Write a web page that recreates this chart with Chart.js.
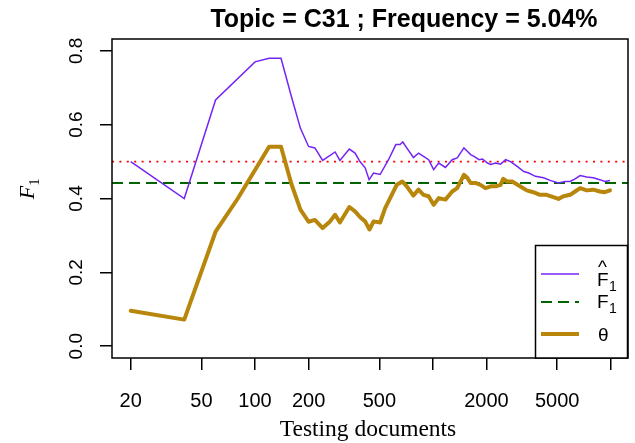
<!DOCTYPE html>
<html><head><meta charset="utf-8">
<script src="https://cdn.jsdelivr.net/npm/chart.js@4"></script>
<style>html,body{margin:0;padding:0;background:#fff}#wrap{width:635px;height:443px}</style>
</head><body><div id="wrap"><canvas id="c" width="635" height="443"></canvas></div>
<script>
const titleText = 'Topic = C31 ; Frequency = 5.04%';
const xAxisTitle = 'Testing documents';
const xTickValues = [20, 50, 100, 200, 500, 1000, 2000, 5000, 10000];
const xTickLabels = ['20', '50', '100', '200', '500', '', '2000', '5000', ''];
const yTickValues = [0, 0.2, 0.4, 0.6, 0.8];
const yTickLabels = ['0.0', '0.2', '0.4', '0.6', '0.8'];

const fhatDocs = [20, 40, 60, 100, 120, 140, 160, 180, 200, 217, 240, 282, 300, 339, 365, 389, 416, 438, 464, 505, 563, 619, 654, 677, 713, 777, 830, 886, 946, 1010, 1078, 1176, 1284, 1370, 1494, 1562, 1630, 1703, 1818, 1900, 2025, 2114, 2255, 2402, 2563, 2734, 2977, 3245, 3460, 3770, 4190, 4560, 5080, 5540, 5910, 6300, 6725, 7330, 7970, 8680, 9260, 9900];
const fhatValues = [0.50, 0.40, 0.667, 0.77, 0.78, 0.78, 0.677, 0.59, 0.541, 0.537, 0.503, 0.526, 0.503, 0.534, 0.523, 0.50, 0.483, 0.451, 0.469, 0.465, 0.505, 0.546, 0.546, 0.553, 0.537, 0.511, 0.523, 0.514, 0.505, 0.478, 0.496, 0.484, 0.505, 0.51, 0.537, 0.528, 0.519, 0.514, 0.505, 0.507, 0.496, 0.492, 0.496, 0.493, 0.505, 0.50, 0.487, 0.473, 0.469, 0.46, 0.456, 0.449, 0.442, 0.446, 0.446, 0.453, 0.462, 0.458, 0.456, 0.451, 0.446, 0.449];

const thetaDocs = [20, 40, 60, 80, 120, 140, 160, 180, 200, 217, 240, 264, 282, 300, 339, 365, 389, 416, 440, 464, 505, 539, 575, 626, 674, 713, 777, 830, 886, 946, 1010, 1078, 1176, 1284, 1370, 1494, 1562, 1630, 1735, 1850, 1975, 2114, 2255, 2402, 2486, 2616, 2790, 3040, 3370, 3670, 4000, 4360, 4750, 5080, 5420, 5910, 6300, 6725, 7330, 7970, 8680, 9260, 9900];
const thetaValues = [0.096, 0.072, 0.31, 0.40, 0.54, 0.54, 0.44, 0.37, 0.337, 0.342, 0.32, 0.338, 0.356, 0.335, 0.377, 0.365, 0.35, 0.338, 0.316, 0.338, 0.335, 0.374, 0.401, 0.437, 0.446, 0.433, 0.408, 0.424, 0.41, 0.406, 0.383, 0.401, 0.397, 0.419, 0.428, 0.464, 0.456, 0.442, 0.442, 0.437, 0.428, 0.433, 0.433, 0.437, 0.453, 0.446, 0.446, 0.435, 0.422, 0.417, 0.41, 0.41, 0.404, 0.399, 0.406, 0.41, 0.419, 0.428, 0.422, 0.424, 0.419, 0.417, 0.422];

const f1Level = 0.442;
const refLevel = 0.5;
const xRange = [15.7, 12500];
const yRange = [-0.032, 0.832];

const colFhat = '#7424f5';
const colF1 = '#006400';
const colTheta = '#b8860b';
const colRef = '#ff0000';

const pts = (xs, ys) => xs.map((v, i) => ({x: v, y: ys[i]}));
const hline = (lvl) => [{x: xRange[0], y: lvl}, {x: xRange[1], y: lvl}];

const decor = {
  id: 'decor',
  afterDraw(chart) {
    const {ctx, chartArea: a, scales: {x, y}} = chart;
    ctx.save();
    ctx.strokeStyle = '#000';
    ctx.lineWidth = 1.5;
    ctx.strokeRect(a.left, a.top, a.right - a.left, a.bottom - a.top);
    ctx.fillStyle = '#000';
    // title
    ctx.font = 'bold 25px "Liberation Sans"';
    ctx.textAlign = 'center';
    ctx.textBaseline = 'alphabetic';
    ctx.fillText(titleText, 404, 27);
    // y tick labels (rotated)
    ctx.font = '19px "Liberation Sans"';
    yTickValues.forEach((v, i) => {
      const py = y.getPixelForValue(v);
      ctx.save();
      ctx.translate(82, py);
      ctx.rotate(-Math.PI / 2);
      ctx.textAlign = 'center';
      ctx.fillText(yTickLabels[i], 0, 0);
      ctx.restore();
    });
    // y axis title F_1 (italic serif, rotated)
    ctx.save();
    ctx.translate(34, 188);
    ctx.rotate(-Math.PI / 2);
    ctx.textAlign = 'left';
    ctx.font = 'italic 22px "Liberation Serif"';
    const fw = ctx.measureText('F').width;
    const tot = fw + 9;
    ctx.fillText('F', -tot / 2, 0);
    ctx.font = '15px "Liberation Serif"';
    ctx.fillText('1', -tot / 2 + fw, 5);
    ctx.restore();
    // x axis title
    ctx.font = '23.5px "Liberation Serif"';
    ctx.textAlign = 'center';
    ctx.fillText(xAxisTitle, 368, 436);
    // legend
    const lx = 535.5, ly = 245.5, lw = 92, lh = a.bottom - 245.5;
    ctx.fillStyle = '#fff';
    ctx.fillRect(lx, ly, lw, lh);
    ctx.strokeStyle = '#000';
    ctx.lineWidth = 1.5;
    ctx.strokeRect(lx, ly, lw, lh);
    const rows = [274, 302, 334];
    const seg = (yy, col, w, dash) => {
      ctx.beginPath();
      ctx.setLineDash(dash);
      ctx.strokeStyle = col; ctx.lineWidth = w;
      ctx.moveTo(541, yy); ctx.lineTo(579, yy); ctx.stroke();
      ctx.setLineDash([]);
    };
    seg(rows[0], colFhat, 1.5, []);
    seg(rows[1], colF1, 2, [11, 6]);
    seg(rows[2], colTheta, 4, []);
    ctx.fillStyle = '#000';
    ctx.textAlign = 'left';
    ctx.font = '19px "Liberation Sans"';
    ctx.fillText('F', 597, rows[0] + 12);
    ctx.fillText('^', 598, rows[0] - 1);
    ctx.font = '14px "Liberation Sans"';
    ctx.fillText('1', 609, rows[0] + 17);
    ctx.font = '19px "Liberation Sans"';
    ctx.fillText('F', 597, rows[1] + 6);
    ctx.font = '14px "Liberation Sans"';
    ctx.fillText('1', 609, rows[1] + 11);
    ctx.font = '19px "Liberation Sans"';
    ctx.fillText('\u03b8', 598, rows[2] + 7);
    ctx.restore();
  }
};

new Chart(document.getElementById('c'), {
  type: 'line',
  data: {
    datasets: [
      {label: 'theta', data: pts(thetaDocs, thetaValues), borderColor: colTheta, borderWidth: 4, pointRadius: 0, order: 0, borderJoinStyle: 'round', borderCapStyle: 'round'},
      {label: 'Fhat', data: pts(fhatDocs, fhatValues), borderColor: colFhat, borderWidth: 1.5, pointRadius: 0, order: 1},
      {label: 'F1', data: hline(f1Level), borderColor: colF1, borderWidth: 2, borderDash: [11, 6], pointRadius: 0, order: 2},
      {label: 'ref', data: hline(refLevel), borderColor: colRef, borderWidth: 1.6, borderDash: [2, 5.4], pointRadius: 0, order: 3}
    ]
  },
  options: {
    responsive: false,
    animation: false,
    devicePixelRatio: 1,
    layout: {padding: {left: 0, top: 39, right: 7, bottom: 0}},
    plugins: {legend: {display: false}, tooltip: {enabled: false}, title: {display: false}},
    scales: {
      x: {
        type: 'logarithmic', position: 'bottom',
        min: xRange[0], max: xRange[1],
        afterBuildTicks: (s) => { s.ticks = xTickValues.map(v => ({value: v})); },
        afterFit: (s) => { s.height = 85; },
        ticks: {
          autoSkip: false, maxRotation: 0, minRotation: 0, color: '#000', padding: 19,
          font: {family: '"Liberation Sans"', size: 20},
          callback: (v, i) => xTickLabels[i]
        },
        grid: {drawOnChartArea: false, drawTicks: true, tickLength: 12, color: '#000', lineWidth: 1.5},
        border: {display: false}
      },
      y: {
        type: 'linear', position: 'left',
        min: yRange[0], max: yRange[1],
        afterBuildTicks: (s) => { s.ticks = yTickValues.map(v => ({value: v})); },
        afterFit: (s) => { s.width = 112; },
        ticks: {display: false},
        grid: {drawOnChartArea: false, drawTicks: true, tickLength: 12, color: '#000', lineWidth: 1.5},
        border: {display: false}
      }
    }
  },
  plugins: [decor]
});
</script></body></html>
